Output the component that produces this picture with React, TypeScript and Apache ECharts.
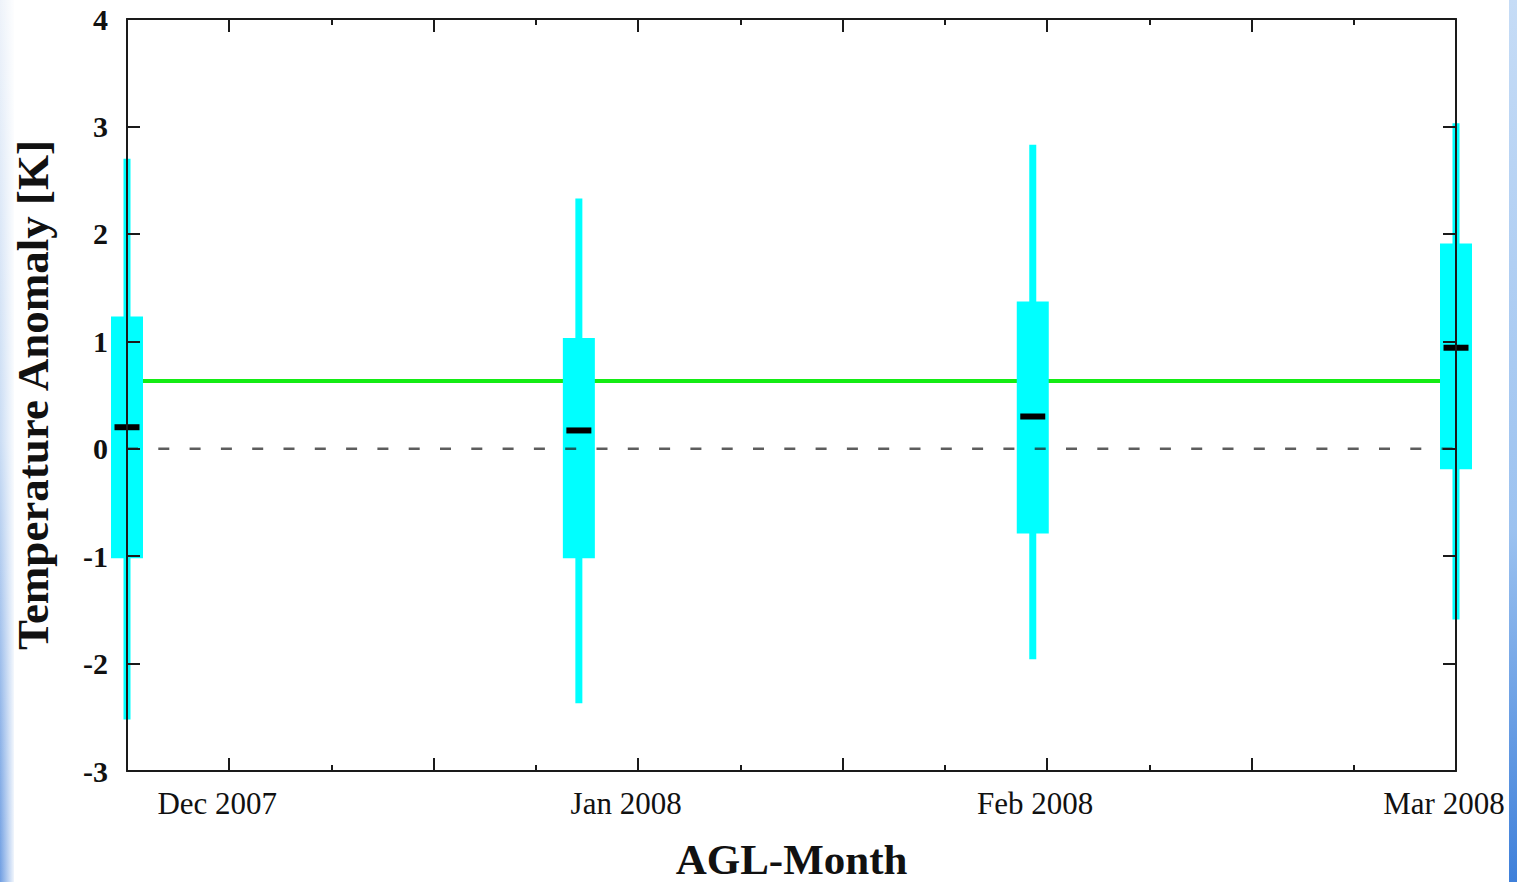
import React, { useEffect, useRef } from "react";
import * as echarts from "echarts";

// x positions in quarter-month units: 0 = Dec 2007 tick, 4 = Jan 2008, 8 = Feb 2008, 12 = Mar 2008
const boxPositions = [-1, 3.42, 7.86, 12];
const whiskerLow = [-2.52, -2.37, -1.96, -1.59];
const quartile1 = [-1.02, -1.02, -0.79, -0.19];
const medians = [0.2, 0.17, 0.3, 0.94];
const quartile3 = [1.23, 1.03, 1.37, 1.91];
const whiskerHigh = [2.7, 2.33, 2.83, 3.03];
const monthLabels = ["Dec 2007", "Jan 2008", "Feb 2008", "Mar 2008"];
const monthTickValues = [0, 4, 8, 12];
const majorTickValues = [0, 2, 4, 6, 8, 10, 12];
const referenceLevel = 0.63;
const zeroLevel = 0;
const xRange = [-1, 12];
const yRange = [-3, 4];

const FONT = "'Liberation Serif', 'Times New Roman', serif";

export default function App() {
  const ref = useRef<HTMLDivElement>(null);

  useEffect(() => {
    if (!ref.current) return;
    const chart = echarts.init(ref.current, null, { renderer: "svg" });

    const boxData = boxPositions.map((x, i) => [
      x,
      whiskerLow[i],
      quartile1[i],
      medians[i],
      quartile3[i],
      whiskerHigh[i],
    ]);

    const gridRect = {
      left: 127,
      right: 61,
      top: 19,
      bottom: 111,
      containLabel: false,
      outerBoundsMode: "none",
    };
    const axisLine = { show: true, onZero: false, lineStyle: { color: "#1a1a1a", width: 2 } };

    const majorX = (pos: "top" | "bottom", withLabels: boolean) => ({
      type: "value",
      gridIndex: 0,
      position: pos,
      min: xRange[0],
      max: xRange[1],
      interval: 1,
      z: 10,
      axisLine,
      axisTick: {
        show: true,
        inside: true,
        length: 13,
        customValues: majorTickValues,
        lineStyle: { color: "#1a1a1a", width: 2 },
      },
      splitLine: { show: false },
      axisLabel: withLabels
        ? {
            show: true,
            customValues: monthTickValues,
            margin: 17,
            hideOverlap: false,
            fontFamily: FONT,
            fontSize: 31,
            color: "#111",
            padding: [0, 24, 0, 0],
            formatter: (v: number) => {
              const idx = monthTickValues.indexOf(Math.round(v * 1000) / 1000);
              return idx >= 0 ? monthLabels[idx] : "";
            },
          }
        : { show: false },
      name: withLabels ? "AGL-Month" : "",
      nameLocation: "middle",
      nameGap: 67,
      nameTextStyle: {
        fontFamily: FONT,
        fontSize: 43,
        fontWeight: "bold",
        color: "#111",
      },
    });

    const minorX = (pos: "top" | "bottom") => ({
      type: "value",
      gridIndex: 1,
      position: pos,
      min: xRange[0],
      max: xRange[1],
      interval: 1,
      z: 10,
      axisLine: { show: false, onZero: false },
      axisTick: {
        show: true,
        inside: true,
        length: 6,
        lineStyle: { color: "#1a1a1a", width: 2 },
      },
      splitLine: { show: false },
      axisLabel: { show: false },
    });

    const yAx = (pos: "left" | "right", withLabels: boolean, gridIndex: number, visible: boolean) => ({
      type: "value",
      gridIndex,
      position: pos,
      min: yRange[0],
      max: yRange[1],
      interval: 1,
      z: 10,
      show: visible,
      axisLine,
      axisTick: {
        show: true,
        inside: true,
        length: 13,
        lineStyle: { color: "#1a1a1a", width: 2 },
      },
      splitLine: { show: false },
      axisLabel: withLabels
        ? {
            show: true,
            margin: 19,
            fontFamily: FONT,
            fontSize: 30,
            fontWeight: "bold",
            color: "#111",
          }
        : { show: false },
      name: withLabels ? "Temperature Anomaly [K]" : "",
      nameLocation: "middle",
      nameRotate: 90,
      nameGap: 72,
      nameTextStyle: {
        fontFamily: FONT,
        fontSize: 45,
        fontWeight: "bold",
        color: "#111",
      },
    });

    chart.setOption({
      animation: false,
      backgroundColor: "#ffffff",
      graphic: [
        {
          type: "rect",
          left: 0,
          top: 0,
          shape: { width: 14, height: 882 },
          silent: true,
          style: {
            fill: new echarts.graphic.LinearGradient(0, 0, 0, 1, [
              { offset: 0, color: "#eef3fa" },
              { offset: 0.5, color: "#c9dcf4" },
              { offset: 1, color: "#6f9ee2" },
            ]),
          },
        },
        {
          type: "rect",
          left: 0,
          top: 0,
          shape: { width: 14, height: 882 },
          silent: true,
          style: {
            fill: new echarts.graphic.LinearGradient(0, 0, 1, 0, [
              { offset: 0, color: "rgba(255,255,255,0)" },
              { offset: 1, color: "rgba(255,255,255,0.9)" },
            ]),
          },
        },
        {
          type: "rect",
          left: 1509,
          top: 0,
          shape: { width: 8, height: 882 },
          silent: true,
          style: {
            fill: new echarts.graphic.LinearGradient(0, 0, 0, 1, [
              { offset: 0, color: "#c6dcf6" },
              { offset: 0.6, color: "#9cc2f0" },
              { offset: 1, color: "#3f80da" },
            ]),
          },
        },
      ],
      grid: [{ ...gridRect }, { ...gridRect }],
      xAxis: [majorX("bottom", true), majorX("top", false), minorX("bottom"), minorX("top")],
      yAxis: [yAx("left", true, 0, true), yAx("right", false, 0, true), yAx("left", false, 1, false)],
      series: [
        {
          type: "line",
          xAxisIndex: 0,
          yAxisIndex: 0,
          z: 1,
          symbol: "none",
          data: [
            [xRange[0], referenceLevel],
            [xRange[1], referenceLevel],
          ],
          lineStyle: { color: "#14ec14", width: 4 },
        },
        {
          type: "custom",
          xAxisIndex: 0,
          yAxisIndex: 0,
          z: 2,
          clip: false,
          data: boxData,
          renderItem: (_params: any, api: any) => {
            const x = api.value(0);
            const pHi = api.coord([x, api.value(5)]);
            const pLo = api.coord([x, api.value(1)]);
            const pQ3 = api.coord([x, api.value(4)]);
            const pQ1 = api.coord([x, api.value(2)]);
            const pMed = api.coord([x, api.value(3)]);
            return {
              type: "group",
              children: [
                {
                  type: "rect",
                  shape: { x: pHi[0] - 3.5, y: pHi[1], width: 7, height: pLo[1] - pHi[1] },
                  style: { fill: "#00ffff" },
                },
                {
                  type: "rect",
                  shape: { x: pQ3[0] - 16, y: pQ3[1], width: 32, height: pQ1[1] - pQ3[1] },
                  style: { fill: "#00ffff" },
                },
                {
                  type: "rect",
                  shape: { x: pMed[0] - 12.5, y: pMed[1] - 3, width: 25, height: 6 },
                  style: { fill: "#000000" },
                },
              ],
            };
          },
        },
        {
          type: "line",
          xAxisIndex: 0,
          yAxisIndex: 0,
          z: 3,
          symbol: "none",
          data: [
            [xRange[0], zeroLevel],
            [xRange[1], zeroLevel],
          ],
          lineStyle: { color: "rgba(30,30,30,0.72)", width: 2.5, type: [11, 20.3] },
        },
      ],
    });

    return () => chart.dispose();
  }, []);

  return (
    <div
      ref={ref}
      style={{
        position: "absolute",
        left: 0,
        top: 0,
        width: 1517,
        height: 882,
        background: "#fff",
      }}
    />
  );
}
